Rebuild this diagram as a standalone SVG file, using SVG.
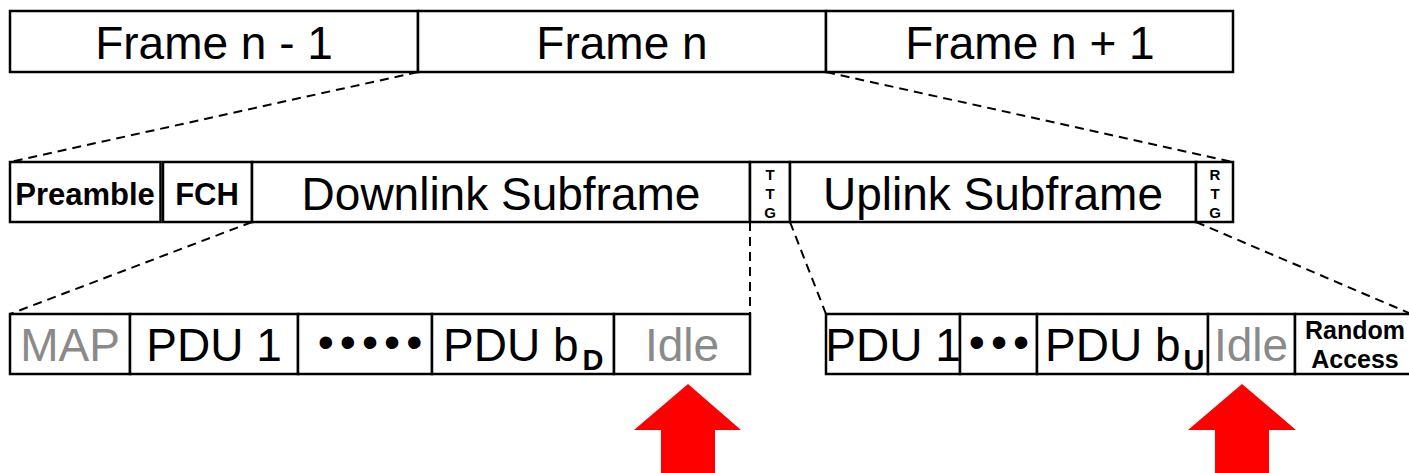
<svg xmlns="http://www.w3.org/2000/svg" width="1409" height="473" viewBox="0 0 1409 473">
<style>
.box{fill:#fff;stroke:#000;stroke-width:2.5}
.dash{stroke:#000;stroke-width:2;stroke-dasharray:9 6;fill:none}
text{font-family:"Liberation Sans",Arial,sans-serif;fill:#000;text-anchor:middle}
.big{font-size:46px}
.dots{font-size:46px;letter-spacing:6px}
.grey{fill:#8a8a8a}
.bold{font-weight:bold}
.tiny{font-size:15px;font-weight:bold}
.arrow{fill:#ff0000}
</style>
<rect width="1409" height="473" fill="#fff"/>
<g id="connectors">
<line class="dash" x1="418" y1="72" x2="10" y2="162"/>
<line class="dash" x1="826" y1="72" x2="1233" y2="162"/>
<line class="dash" x1="252" y1="222" x2="10" y2="314"/>
<line class="dash" x1="750" y1="222" x2="750" y2="314"/>
<line class="dash" x1="790" y1="222" x2="826" y2="314"/>
<line class="dash" x1="1196" y1="222" x2="1409" y2="313"/>
</g>
<g id="frame-n-minus-1">
<rect class="box" x="10" y="11" width="408" height="61"/>
<text class="big" x="214" y="59">Frame n - 1</text>
</g>
<g id="frame-n">
<rect class="box" x="418" y="11" width="408" height="61"/>
<text class="big" x="622" y="59">Frame n</text>
</g>
<g id="frame-n-plus-1">
<rect class="box" x="826" y="11" width="407" height="61"/>
<text class="big" x="1030" y="59">Frame n + 1</text>
</g>
<g id="preamble">
<rect class="box" x="10" y="162" width="150.5" height="60"/>
<text class="bold" font-size="31" x="85" y="205">Preamble</text>
</g>
<g id="fch">
<rect class="box" x="163" y="162" width="89" height="60"/>
<text class="bold" font-size="31" x="207" y="205">FCH</text>
</g>
<g id="downlink-subframe">
<rect class="box" x="252" y="162" width="498" height="60"/>
<text class="big" x="501" y="210">Downlink Subframe</text>
</g>
<g id="ttg">
<rect class="box" x="750" y="162" width="40" height="60"/>
<text class="tiny" x="770" y="180">T</text>
<text class="tiny" x="770" y="199">T</text>
<text class="tiny" x="770" y="218">G</text>
</g>
<g id="uplink-subframe">
<rect class="box" x="790" y="162" width="406" height="60"/>
<text class="big" x="993" y="210">Uplink Subframe</text>
</g>
<g id="rtg">
<rect class="box" x="1196" y="162" width="37" height="60"/>
<text class="tiny" x="1215" y="180">R</text>
<text class="tiny" x="1215" y="199">T</text>
<text class="tiny" x="1215" y="218">G</text>
</g>
<g id="dl-map">
<rect class="box" x="10" y="314" width="120" height="60"/>
<text class="big grey" x="70" y="361">MAP</text>
</g>
<g id="dl-pdu1">
<rect class="box" x="130" y="314" width="168" height="60"/>
<text class="big" x="214" y="361">PDU 1</text>
</g>
<g id="dl-dots">
<rect class="box" x="298" y="314" width="134" height="60"/>
<text class="dots" x="373" y="358">•••••</text>
</g>
<g id="dl-pdu-bd">
<rect class="box" x="432" y="314" width="182" height="60"/>
<text class="big" x="443" y="361" style="text-anchor:start">PDU b<tspan class="bold" font-size="29" dx="4" dy="9">D</tspan></text>
</g>
<g id="dl-idle">
<rect class="box" x="614" y="314" width="136" height="60"/>
<text class="big grey" x="682" y="361">Idle</text>
</g>
<g id="ul-pdu1">
<rect class="box" x="826" y="314" width="134" height="60"/>
<text class="big" x="893" y="361">PDU 1</text>
</g>
<g id="ul-dots">
<rect class="box" x="960" y="314" width="77" height="60"/>
<text class="dots" x="1002" y="358">•••</text>
</g>
<g id="ul-pdu-bu">
<rect class="box" x="1037" y="314" width="171" height="60"/>
<text class="big" x="1045" y="361" style="text-anchor:start">PDU b<tspan class="bold" font-size="29" dx="3" dy="9">U</tspan></text>
</g>
<g id="ul-idle">
<rect class="box" x="1208" y="314" width="87" height="60"/>
<text class="big grey" x="1251" y="361">Idle</text>
</g>
<g id="random-access">
<rect class="box" x="1295" y="314" width="120" height="60"/>
<text class="bold" font-size="25" x="1355" y="339">Random</text>
<text class="bold" font-size="25" x="1355" y="368">Access</text>
</g>
<g id="arrow-dl-idle">
<polygon class="arrow" points="688,384 741,430 715,430 715,473 661,473 661,430 634,430"/>
</g>
<g id="arrow-ul-idle">
<polygon class="arrow" points="1242,384 1296,430 1269,430 1269,473 1215,473 1215,430 1188,430"/>
</g>
</svg>
